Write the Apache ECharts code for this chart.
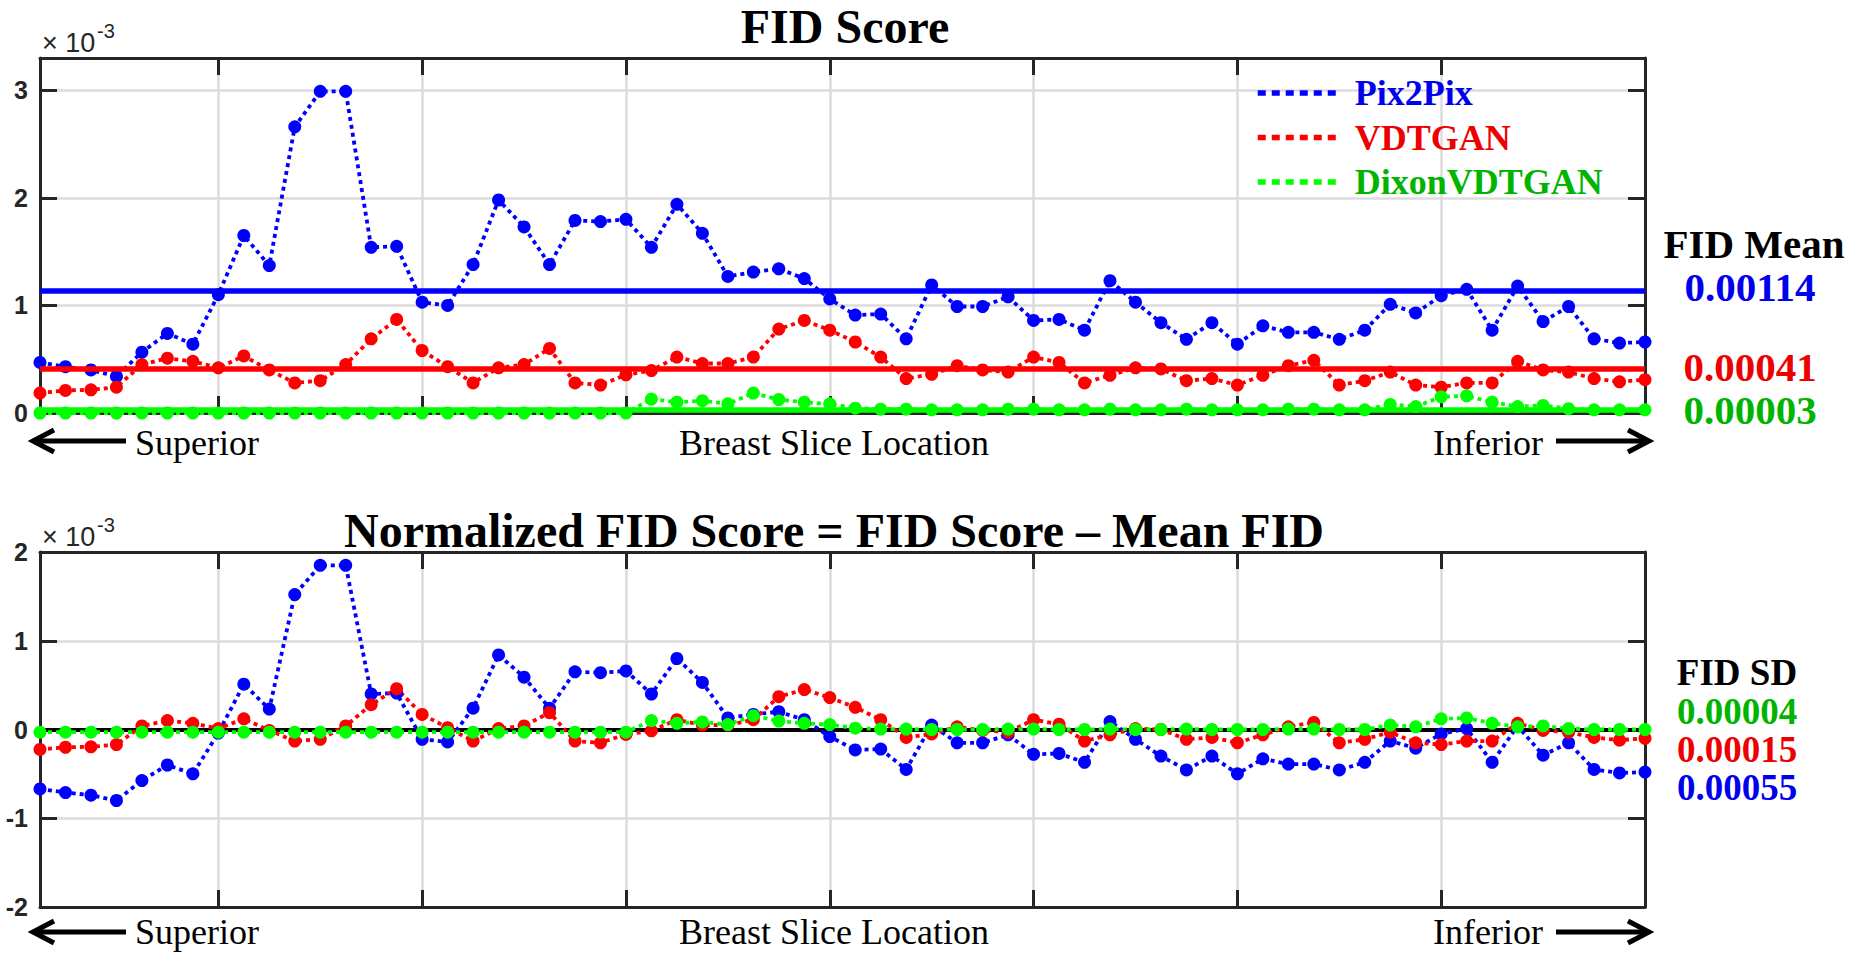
<!DOCTYPE html>
<html><head><meta charset="utf-8">
<script src="https://cdn.jsdelivr.net/npm/echarts@6/dist/echarts.min.js"></script>
<style>html,body{margin:0;padding:0;background:#fff;} #c{width:1861px;height:968px;}</style>
</head><body><div id="c"></div>
<script>
// ---- data (FID values in units of 1e-3) ----
const sliceIndex = [1,2,3,4,5,6,7,8,9,10,11,12,13,14,15,16,17,18,19,20,21,22,23,24,25,26,27,28,29,30,31,32,
  33,34,35,36,37,38,39,40,41,42,43,44,45,46,47,48,49,50,51,52,53,54,55,56,57,58,59,60,61,62,63,64];
const seriesNames = ['Pix2Pix', 'VDTGAN', 'DixonVDTGAN'];

const pix2pixFID = [0.47,0.43,0.40,0.34,0.565,0.74,0.64,1.10,1.65,1.37,2.66,2.99,2.99,1.54,1.55,1.03,
  1.00,1.38,1.98,1.73,1.38,1.79,1.78,1.80,1.54,1.94,1.67,1.27,1.31,1.34,1.25,1.06,
  0.91,0.92,0.69,1.19,0.99,0.99,1.08,0.86,0.87,0.77,1.23,1.03,0.84,0.685,0.84,0.64,
  0.81,0.75,0.75,0.685,0.77,1.01,0.93,1.09,1.15,0.77,1.18,0.85,0.99,0.69,0.65,0.66];
const vdtganFID = [0.185,0.21,0.215,0.24,0.45,0.51,0.48,0.42,0.53,0.40,0.28,0.30,0.45,0.69,0.87,0.58,
  0.43,0.28,0.42,0.45,0.60,0.28,0.26,0.355,0.395,0.52,0.46,0.46,0.52,0.78,0.86,0.77,
  0.66,0.52,0.32,0.36,0.44,0.40,0.38,0.52,0.47,0.28,0.35,0.42,0.41,0.30,0.32,0.26,
  0.35,0.44,0.49,0.26,0.30,0.38,0.26,0.24,0.28,0.28,0.48,0.40,0.38,0.32,0.29,0.31];
const dixonFID = [0,0,0,0,0,0,0,0,0,0,0,0,0,0,0,0,
  0,0,0,0,0,0,0,0,0.13,0.10,0.115,0.085,0.185,0.125,0.10,0.085,
  0.045,0.035,0.035,0.03,0.03,0.03,0.035,0.035,0.03,0.03,0.035,0.03,0.03,0.035,0.03,0.03,
  0.03,0.035,0.035,0.03,0.03,0.08,0.06,0.15,0.16,0.10,0.06,0.07,0.04,0.03,0.03,0.03];

const pix2pixNorm = [-0.67,-0.71,-0.74,-0.80,-0.575,-0.40,-0.50,-0.04,0.51,0.23,1.52,1.85,1.85,0.40,0.41,-0.11,
  -0.14,0.24,0.84,0.59,0.24,0.65,0.64,0.66,0.40,0.80,0.53,0.13,0.17,0.20,0.11,-0.08,
  -0.23,-0.22,-0.45,0.05,-0.15,-0.15,-0.06,-0.28,-0.27,-0.37,0.09,-0.11,-0.30,-0.455,-0.30,-0.50,
  -0.33,-0.39,-0.39,-0.455,-0.37,-0.13,-0.21,-0.05,0.01,-0.37,0.04,-0.29,-0.15,-0.45,-0.49,-0.48];
const vdtganNorm = [-0.225,-0.20,-0.195,-0.17,0.04,0.10,0.07,0.01,0.12,-0.01,-0.13,-0.11,0.04,0.28,0.46,0.17,
  0.02,-0.13,0.01,0.04,0.19,-0.13,-0.15,-0.055,-0.015,0.11,0.05,0.05,0.11,0.37,0.45,0.36,
  0.25,0.11,-0.09,-0.05,0.03,-0.01,-0.03,0.11,0.06,-0.13,-0.06,0.01,0.00,-0.11,-0.09,-0.15,
  -0.06,0.03,0.08,-0.15,-0.11,-0.03,-0.15,-0.17,-0.13,-0.13,0.07,-0.01,-0.03,-0.09,-0.12,-0.10];
const dixonNorm = [-0.03,-0.03,-0.03,-0.03,-0.03,-0.03,-0.03,-0.03,-0.03,-0.03,-0.03,-0.03,-0.03,-0.03,-0.03,-0.03,
  -0.03,-0.03,-0.03,-0.03,-0.03,-0.03,-0.03,-0.03,0.10,0.07,0.085,0.055,0.155,0.095,0.07,0.055,
  0.015,0.005,0.005,0,0,0,0.005,0.005,0,0,0.005,0,0,0.005,0,0,
  0,0.005,0.005,0,0,0.05,0.03,0.12,0.13,0.07,0.03,0.04,0.01,0,0,0];

const fidMean = [1.14, 0.41, 0.03];                       // ×10^-3
const fidMeanText = ['0.00114', '0.00041', '0.00003'];
const fidSDText = ['0.00055', '0.00015', '0.00004'];
const topYRange = [0, 3.3];   // axis range (×10^-3)
const botYRange = [-2, 2];

// ---- styles ----
const lineColors = ['#0000ff', '#ff0000', '#00ff00'];
const textColors = ['#0000ee', '#ee0000', '#00b400'];
const AX = '#262626';
const GRIDC = '#dcdcdc';
const SERIF = '"Liberation Serif", "Times New Roman", serif';
const SANS = '"Liberation Sans", Arial, sans-serif';

const gridTick = (i) => i > 0 && i < sliceIndex.length - 1 && (i + 1) % 8 === 0;

function xAxes(gi) {
  const base = {
    type: 'category', data: sliceIndex, gridIndex: gi, boundaryGap: false,
    axisLine: { show: true, onZero: false, lineStyle: { color: AX, width: 3 } },
    axisTick: { show: true, inside: true, length: 17, interval: (i) => gridTick(i), lineStyle: { color: AX, width: 3 } },
    axisLabel: { show: false }, axisPointer: { show: false }
  };
  return [
    Object.assign({}, base, { position: 'bottom', splitLine: { show: true, interval: (i) => gridTick(i), lineStyle: { color: GRIDC, width: 2.5 } } }),
    Object.assign({}, base, { position: 'top', splitLine: { show: false } })
  ];
}
function yAxes(gi, range) {
  const base = {
    type: 'value', gridIndex: gi, min: range[0], max: range[1], interval: 1,
    axisLine: { show: true, onZero: false, lineStyle: { color: AX, width: 3 } },
    axisTick: { show: true, inside: true, length: 17, lineStyle: { color: AX, width: 3 } }
  };
  return [
    Object.assign({}, base, { position: 'left',
      axisLabel: { show: true, margin: 12, fontFamily: SANS, fontWeight: 'bold', fontSize: 25, color: AX,
        formatter: (v) => (Math.abs(v - Math.round(v)) < 1e-9) ? String(Math.round(v)) : '' },
      splitLine: { show: true, showMinLine: false, showMaxLine: false, lineStyle: { color: GRIDC, width: 2.5 } } }),
    Object.assign({}, base, { position: 'right', axisLabel: { show: false }, splitLine: { show: false } })
  ];
}
function lineSeries(k, data, xi, yi, extra) {
  return Object.assign({
    type: 'line', name: seriesNames[k], data, xAxisIndex: xi, yAxisIndex: yi,
    symbol: 'circle', symbolSize: 13, showAllSymbol: true, showSymbol: true,
    lineStyle: { color: lineColors[k], width: 3.8, type: [4, 4], cap: 'butt' },
    itemStyle: { color: lineColors[k] }, emphasis: { disabled: true }, animation: false, z: 2
  }, extra || {});
}
function meanLine(k) {
  return { silent: true, symbol: 'none', z: 3, animation: false, emphasis: { disabled: true },
    label: { show: false }, lineStyle: { color: lineColors[k], width: 5.5, type: 'solid' },
    data: [{ yAxis: fidMean[k] }] };
}

function txt(x, y, text, size, weight, color, align, family) {
  return { type: 'text', x, y, silent: true, z: 10,
    style: { text, fill: color, font: weight + ' ' + size + 'px ' + (family || SERIF), align: align || 'center', verticalAlign: 'middle' } };
}
function arrowSet(y) {
  return [
    { type: 'line', silent: true, shape: { x1: 36, y1: y, x2: 126, y2: y }, style: { stroke: '#000', lineWidth: 5 } },
    { type: 'polyline', silent: true, shape: { points: [[54, y - 11], [33, y], [54, y + 11]] }, style: { stroke: '#000', fill: null, lineWidth: 5, lineJoin: 'miter' } },
    { type: 'line', silent: true, shape: { x1: 1556, y1: y, x2: 1646, y2: y }, style: { stroke: '#000', lineWidth: 5 } },
    { type: 'polyline', silent: true, shape: { points: [[1628, y - 11], [1649, y], [1628, y + 11]] }, style: { stroke: '#000', fill: null, lineWidth: 5, lineJoin: 'miter' } }
  ];
}
function axisNames(y) {
  return [
    txt(135, y, 'Superior', 36, 'normal', '#000', 'left'),
    txt(834, y, 'Breast Slice Location', 36, 'normal', '#000', 'center'),
    txt(1543, y, 'Inferior', 36, 'normal', '#000', 'right')
  ];
}
function expo(y) {
  return [
    txt(42, y, '× 10', 27, 'normal', AX, 'left', SANS),
    txt(97, y - 12, '-3', 20, 'normal', AX, 'left', SANS)
  ];
}

const option = {
  animation: false,
  backgroundColor: '#fff',
  tooltip: { show: false },
  grid: [
    { left: 40, top: 58, width: 1605, height: 355, outerBoundsMode: 'none', containLabel: false },
    { left: 40, top: 552, width: 1605, height: 355, outerBoundsMode: 'none', containLabel: false }
  ],
  xAxis: [].concat(xAxes(0), xAxes(1)),
  yAxis: [].concat(yAxes(0, topYRange), yAxes(1, botYRange)),
  legend: {
    orient: 'vertical', left: 1255, top: 75, padding: 0, itemWidth: 78, itemHeight: 5, itemGap: 8.5,
    selectedMode: false,
    lineStyle: { width: 5.5, type: [8, 6], cap: 'butt' },
    itemStyle: { opacity: 0 },
    textStyle: { fontFamily: SERIF, fontWeight: 'bold', fontSize: 36, lineHeight: 36, padding: [0, 0, 0, 14] },
    data: seriesNames.map((n, k) => ({ name: n, textStyle: { color: textColors[k] } }))
  },
  series: [
    lineSeries(0, pix2pixFID, 0, 0, { markLine: meanLine(0) }),
    lineSeries(1, vdtganFID, 0, 0, { markLine: meanLine(1) }),
    lineSeries(2, dixonFID, 0, 0, { markLine: meanLine(2) }),
    lineSeries(0, pix2pixNorm, 2, 2, { markLine: { silent: true, symbol: 'none', z: 1, animation: false, emphasis: { disabled: true },
      label: { show: false }, lineStyle: { color: '#000', width: 4, type: 'solid' }, data: [{ yAxis: 0 }] } }),
    lineSeries(1, vdtganNorm, 2, 2),
    lineSeries(2, dixonNorm, 2, 2)
  ],
  graphic: [].concat(
    [txt(845, 26, 'FID Score', 48, 'bold', '#000'),
     txt(834, 530, 'Normalized FID Score = FID Score – Mean FID', 48, 'bold', '#000')],
    expo(43), expo(537),
    axisNames(443), axisNames(932),
    arrowSet(441), arrowSet(932),
    [txt(1754, 244, 'FID Mean', 41, 'bold', '#000'),
     txt(1750, 287, fidMeanText[0], 41, 'bold', textColors[0]),
     txt(1750, 367, fidMeanText[1], 41, 'bold', textColors[1]),
     txt(1750, 410, fidMeanText[2], 41, 'bold', textColors[2]),
     txt(1737, 672, 'FID SD', 37, 'bold', '#000'),
     txt(1737, 711, fidSDText[2], 37, 'bold', textColors[2]),
     txt(1737, 749, fidSDText[1], 37, 'bold', textColors[1]),
     txt(1737, 787, fidSDText[0], 37, 'bold', textColors[0])]
  )
};

const chart = echarts.init(document.getElementById('c'), null, { renderer: 'svg', width: 1861, height: 968 });
chart.setOption(option);
</script>
</body></html>
